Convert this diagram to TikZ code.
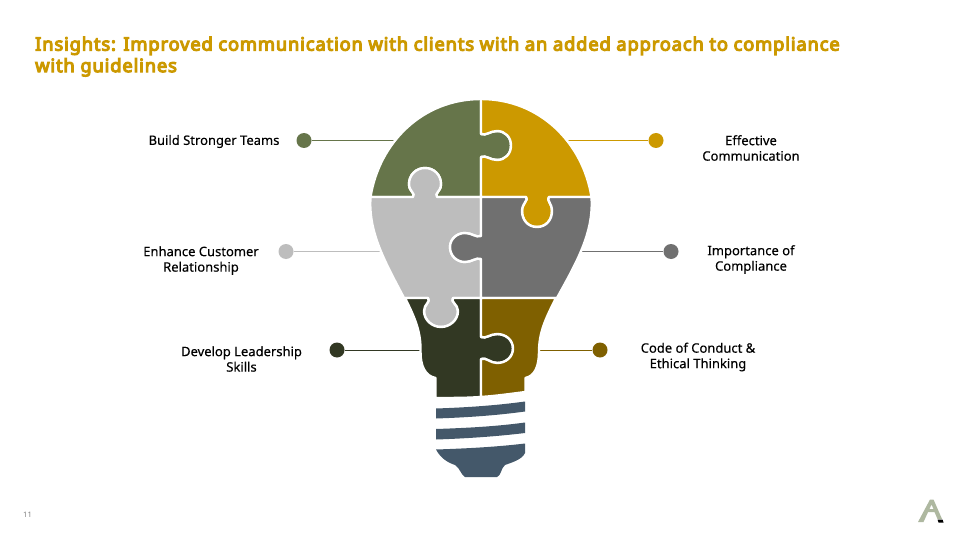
\documentclass[tikz,border=0pt]{standalone}
\usepackage{fontspec}
\setmainfont{Noto Sans}[FakeBold=0.25]
\newfontfamily\titlefont{Noto Sans}[FakeBold=6,LetterSpace=4.7]
\newfontfamily\plainfont{Noto Sans}
\definecolor{cgreen}{HTML}{66754A}
\definecolor{cgold}{HTML}{CC9900}
\definecolor{clight}{HTML}{BDBDBD}
\definecolor{cgrey}{HTML}{707070}
\definecolor{cdark}{HTML}{323823}
\definecolor{cbrown}{HTML}{7F6000}
\definecolor{cbase}{HTML}{44586A}
\definecolor{clogo}{HTML}{AEB8A0}
\tikzset{
  piece/.style={draw=white,line width=2.4pt,line join=round},
  basepart/.style={fill=cbase,draw=none},
  dot/.style={circle,minimum size=15pt,inner sep=0pt,fill=#1,draw=none},
  leader/.style={draw=#1,line width=1pt},
  lbl/.style={font=\fontsize{13}{15.5}\selectfont,align=center,text=black,inner sep=0pt},
  titletext/.style={font=\fontsize{18.3}{21.5}\selectfont\titlefont,text=cgold,align=left,anchor=north west,inner sep=0pt},
}
\begin{document}
\begin{tikzpicture}[x=1pt,y=-1pt]
\useasboundingbox (0,0) rectangle (960,540);
\fill[white] (0,0) rectangle (960,540);
\node[titletext] (title) at (35,36.5) {Insights: Improved communication with clients with an added approach to compliance\\with guidelines};
% dots and anchors
\node[dot=cgreen] (d1) at (304,140.5) {};
\node[dot=cgold] (d2) at (656,140.5) {};
\node[dot=clight] (d3) at (286,251.5) {};
\node[dot=cgrey] (d4) at (671,251.5) {};
\node[dot=cdark] (d5) at (337,350) {};
\node[dot=cbrown] (d6) at (600,350) {};
\coordinate (a1) at (420,140.5);
\coordinate (a2) at (540,140.5);
\coordinate (a3) at (420,251.5);
\coordinate (a4) at (540,251.5);
\coordinate (a5) at (450,350);
\coordinate (a6) at (520,350);
\draw[leader=cgreen] (d1) -- (a1);
\draw[leader=cgold] (d2) -- (a2);
\draw[leader=clight] (d3) -- (a3);
\draw[leader=cgrey] (d4) -- (a4);
\draw[leader=cdark] (d5) -- (a5);
\draw[leader=cbrown] (d6) -- (a6);
% pieces
\path[piece,fill=cgreen] (481,99) .. controls (422,99) and (379,143) .. (370.5,197) -- (413,197)
 .. controls (416,193) and (409,192) .. (409,184) .. controls (409,175) and (416,168) .. (425,168)
 .. controls (434,168) and (441,175) .. (441,184) .. controls (441,192) and (434,193) .. (437,197)
 -- (481,197) -- (481,157) .. controls (486,155) and (490,160) .. (497,160)
 .. controls (505,160) and (511,154) .. (511,145.5) .. controls (511,137) and (505,131) .. (497,131)
 .. controls (490,131) and (486,136) .. (481,134) -- cycle;
\path[piece,fill=cgold] (481,99) .. controls (540,99) and (583,143) .. (591.5,197) -- (549,197)
 .. controls (546,200) and (552,203) .. (552,211) .. controls (552,220) and (546,227) .. (537,227)
 .. controls (528,227) and (522,220) .. (522,211) .. controls (522,203) and (529,200) .. (526,197)
 -- (481,197) -- (481,157) .. controls (486,155) and (490,160) .. (497,160)
 .. controls (505,160) and (511,154) .. (511,145.5) .. controls (511,137) and (505,131) .. (497,131)
 .. controls (490,131) and (486,136) .. (481,134) -- cycle;
\path[piece,fill=clight] (370.5,197) .. controls (368,232) and (385,262) .. (404,298) -- (428,298)
 .. controls (431,302) and (424,304) .. (424,311) .. controls (424,320) and (432,327) .. (441,327)
 .. controls (450,327) and (458,320) .. (458,311) .. controls (458,304) and (450,302) .. (453,298)
 -- (481,298) -- (481,259) .. controls (476,257) and (472,262) .. (465,262)
 .. controls (457,262) and (450,256) .. (450,247) .. controls (450,239) and (457,233) .. (465,233)
 .. controls (472,233) and (476,238) .. (481,236) -- (481,197) -- (437,197)
 .. controls (434,193) and (441,192) .. (441,184) .. controls (441,175) and (434,168) .. (425,168)
 .. controls (416,168) and (409,175) .. (409,184) .. controls (409,192) and (416,193) .. (413,197) -- cycle;
\path[piece,fill=cgrey] (591.5,197) .. controls (594,232) and (577,262) .. (557,298) -- (481,298) -- (481,259)
 .. controls (476,257) and (472,262) .. (465,262)
 .. controls (457,262) and (450,256) .. (450,247) .. controls (450,239) and (457,233) .. (465,233)
 .. controls (472,233) and (476,238) .. (481,236) -- (481,197) -- (526,197)
 .. controls (529,200) and (522,203) .. (522,211) .. controls (522,220) and (528,227) .. (537,227)
 .. controls (546,227) and (552,220) .. (552,211) .. controls (552,203) and (546,200) .. (549,197) -- cycle;
\path[piece,fill=cdark] (405,298) .. controls (415,318) and (421,332) .. (420.5,352)
 .. controls (420.5,366) and (425,376) .. (435.5,378) -- (435.5,398) .. controls (452,398) and (468,398) .. (481,397)
 -- (481,359) .. controls (486,357) and (490,363) .. (497,363)
 .. controls (506,363) and (513,357) .. (513,348.5) .. controls (513,340) and (506,334) .. (497,334)
 .. controls (490,334) and (486,339) .. (481,337) -- (481,298) -- (453,298)
 .. controls (450,302) and (458,304) .. (458,311) .. controls (458,320) and (450,327) .. (441,327)
 .. controls (432,327) and (424,320) .. (424,311) .. controls (424,304) and (431,302) .. (428,298) -- cycle;
\path[piece,fill=cbrown] (556,298) .. controls (546,318) and (539,332) .. (539,352)
 .. controls (539,366) and (535,376) .. (525.5,378) -- (525.5,392) .. controls (510,394) and (496,396) .. (481,397)
 -- (481,359) .. controls (486,357) and (490,363) .. (497,363)
 .. controls (506,363) and (513,357) .. (513,348.5) .. controls (513,340) and (506,334) .. (497,334)
 .. controls (490,334) and (486,339) .. (481,337) -- (481,298) -- cycle;
% base
\fill[basepart] (436,408.5) .. controls (466,407.5) and (496,405.5) .. (525,401.5) -- (525,411.5) .. controls (496,415.5) and (466,417.5) .. (436,418.5) -- cycle;
\fill[basepart] (436,429) .. controls (466,428) and (496,426.5) .. (525,422.5) -- (525,433) .. controls (496,436.5) and (466,438.5) .. (436,439.5) -- cycle;
\fill[basepart] (436,449.5) .. controls (466,448.5) and (496,447) .. (525,443.5) -- (525,453)
 .. controls (522,460) and (510,463) .. (505,465) .. controls (501,468) and (501,476) .. (497,477)
 -- (465,477) .. controls (461,475) and (460,468) .. (455,465) .. controls (449,463) and (441,459) .. (436,449.5) -- cycle;
% labels
\node[lbl] (t1) at (214,141.5) {Build Stronger Teams};
\node[lbl] (t2) at (751,148) {Effective\\Communication};
\node[lbl] (t3) at (201,260.5) {Enhance Customer\\Relationship};
\node[lbl] (t4) at (751,259.5) {Importance of\\Compliance};
\node[lbl] (t5) at (241.5,359) {Develop Leadership\\Skills};
\node[lbl] (t6) at (698,357) {Code of Conduct \&\\Ethical Thinking};
\node[font=\fontsize{7.5}{9}\selectfont\plainfont,text=gray,inner sep=0pt] (pg) at (27.5,515) {11};
% logo
\fill[clogo] (930,499.5) -- (933.5,499.5) -- (942,519) -- (937.5,519) -- (934.5,512) -- (927,512) -- (929.5,509) -- (933.5,509) -- (931.5,504.5) -- (923.5,522) -- (918,522) -- cycle;
\fill[black] (937.5,519.5) -- (942.5,519.5) -- (943.5,522.5) -- (938.5,522.5) -- cycle;
\end{tikzpicture}
\end{document}
